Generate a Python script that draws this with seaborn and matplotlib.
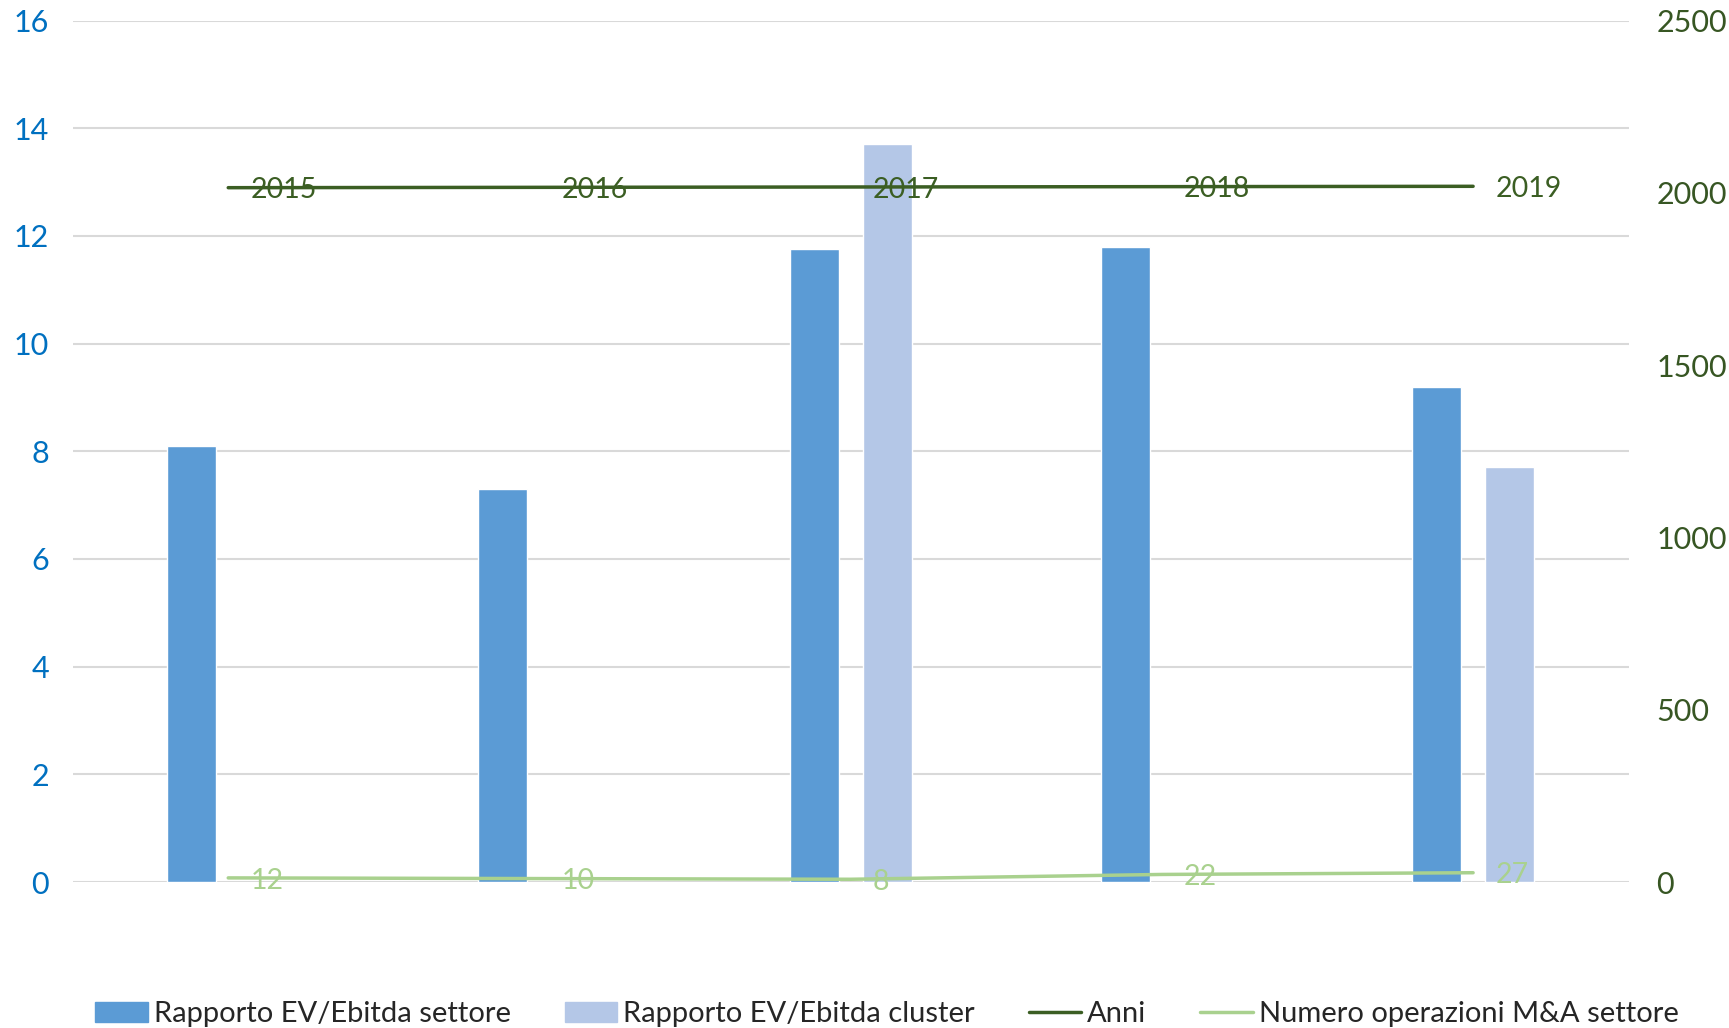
import numpy as np
import pandas as pd
import matplotlib
matplotlib.use("Agg")
import matplotlib.pyplot as plt
import seaborn as sns
from matplotlib.lines import Line2D
from matplotlib.patches import Patch

# %% Data
anni = [2015, 2016, 2017, 2018, 2019]
ev_settore = [8.1, 7.3, 11.75, 11.8, 9.2]
ev_cluster = [np.nan, np.nan, 13.7, np.nan, 7.7]
operazioni = [12, 10, 8, 22, 27]

C_SETT = "#5B9BD5"
C_CLUS = "#B4C7E7"
C_ANNI = "#3B5E23"
C_OPER = "#A9D18E"

sns.set_theme(style="white")
plt.rcParams["font.family"] = ["Lato", "DejaVu Sans"]

df = pd.DataFrame({
    "anno": [str(a) for a in anni] * 2,
    "valore": ev_settore + ev_cluster,
    "serie": ["Rapporto EV/Ebitda settore"] * 5 + ["Rapporto EV/Ebitda cluster"] * 5,
})

fig = plt.figure(figsize=(17.29, 10.28), dpi=100)
ax = fig.add_axes([0.042, 0.142, 0.9, 0.838])
sns.barplot(data=df, x="anno", y="valore", hue="serie", ax=ax,
            palette=[C_SETT, C_CLUS], width=0.47, gap=0.33,
            saturation=1, legend=False)
ax.set_ylim(0, 16)
ax.set_yticks(range(0, 17, 2))
ax.yaxis.grid(True, color="#D9D9D9", linewidth=1.5)
ax.set_axisbelow(True)
ax.set_xlim(-0.5, len(anni) - 0.5)
ax.set_xticks([])
ax.set_xlabel(""); ax.set_ylabel("")
ax.tick_params(axis="y", colors="#0070C0", labelsize=22, length=0, pad=17)
for s in ax.spines.values():
    s.set_visible(False)

ax2 = ax.twinx()
xpos = np.arange(len(anni))
sns.lineplot(x=xpos, y=anni, ax=ax2, color=C_ANNI, linewidth=2.5)
sns.lineplot(x=xpos, y=operazioni, ax=ax2, color=C_OPER, linewidth=2.5)
ax2.set_ylim(0, 2500)
ax2.set_yticks(range(0, 2501, 500))
ax2.tick_params(axis="y", colors="#375623", labelsize=22, length=0, pad=20)
ax2.set_xlim(-0.5, len(anni) - 0.5)
ax2.grid(False)
for s in ax2.spines.values():
    s.set_visible(False)

for x, a, n in zip(xpos, anni, operazioni):
    ax2.annotate(str(a), (x, a), xytext=(16, -2), textcoords="offset points",
                 ha="left", va="center", fontsize=20.5, color=C_ANNI)
    ax2.annotate(str(n), (x, n), xytext=(16, -2), textcoords="offset points",
                 ha="left", va="center", fontsize=20.5, color=C_OPER)

handles = [
    Patch(color=C_SETT, label="Rapporto EV/Ebitda settore"),
    Patch(color=C_CLUS, label="Rapporto EV/Ebitda cluster"),
    Line2D([], [], color=C_ANNI, linewidth=2.5, label="Anni"),
    Line2D([], [], color=C_OPER, linewidth=2.5, label="Numero operazioni M&A settore"),
]
fig.legend(handles=handles, loc="lower center", ncol=4, frameon=False,
           fontsize=21, bbox_to_anchor=(0.513, -0.025), handlelength=1.8,
           handletextpad=0.2, columnspacing=1.85)

fig.savefig("out.png", dpi=100)
